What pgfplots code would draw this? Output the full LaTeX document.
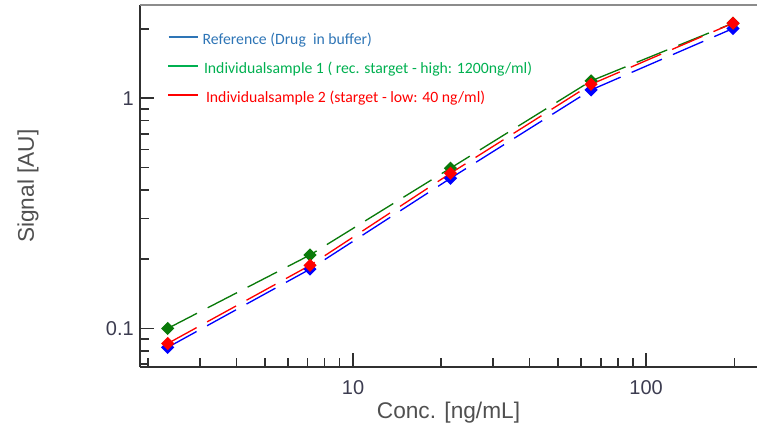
\documentclass[border=0pt]{standalone}
\usepackage{pgfplots}
\pgfplotsset{compat=1.18}
\usepackage{fontspec}
\setmainfont{Liberation Sans}
\newfontfamily\carlito{Carlito}
\definecolor{legblue}{HTML}{2E75B6}
\definecolor{leggreen}{HTML}{00B050}
\definecolor{legred}{HTML}{FF0000}
\definecolor{plotblue}{HTML}{0000FF}
\definecolor{plotgreen}{HTML}{0A7A0A}
\definecolor{plotred}{HTML}{FF0000}
\definecolor{ticktext}{HTML}{3C3C50}
\definecolor{labeltext}{HTML}{505050}
\definecolor{axisdark}{HTML}{303030}
\definecolor{topgray}{HTML}{8C8C8C}
\begin{document}
\begin{tikzpicture}
\begin{axis}[
  at={(0,0)}, anchor=south west,
  scale only axis, width=462.75pt, height=271.125pt,
  xmode=log, ymode=log,
  xmin=1.875, xmax=239, ymin=0.068, ymax=2.53,
  axis x line*=bottom, axis y line*=left,
  x axis line style={-, line width=1.5pt, color=axisdark},
  y axis line style={-, line width=1.5pt, color=axisdark},
  xtick={10,100}, xticklabels={10,100},
  minor xtick={2,3,4,5,6,7,8,9,20,30,40,50,60,70,80,90,200},
  ytick={0.1,1}, yticklabels={0.1,1},
  minor ytick={0.07,0.08,0.09,0.2,0.3,0.4,0.5,0.6,0.7,0.8,0.9,2},
  tick align=inside,
  major tick length=10.5pt, minor tick length=7pt,
  every tick/.style={axisdark, line width=1.2pt},
  /pgf/number format/assume math mode=true,
  tick label style={font=\fontsize{15}{18}\selectfont, text=ticktext},
  xticklabel style={yshift=-6.5pt},
  yticklabel style={xshift=-1.2pt},
  xlabel={Conc. [ng/mL]},
  ylabel={Signal [AU]},
  label style={font=\fontsize{17}{20}\selectfont, text=labeltext},
  xlabel style={at={(axis description cs:0.5,-0.1411)}, anchor=base},
  ylabel style={at={(axis description cs:-0.1815,0.5)}, anchor=center},
  clip=false,
  legend cell align=left,
  legend style={draw=none, fill=none, at={(0.0438,0.925)}, anchor=north west,
    inner sep=0pt, outer sep=0pt, row sep=9.75pt, column sep=3pt,
    font=\carlito\fontsize{11.8}{14}\selectfont,
    nodes={inner sep=0pt, text height=9pt, text depth=3pt}},
]
\addlegendimage{legend image code/.code={\draw[legblue, line width=1.5pt] (0pt,3pt) -- (21.75pt,3pt);}}
\addlegendentry{\textcolor{legblue}{Reference (Drug\ \ in buffer)}}
\addlegendimage{legend image code/.code={\draw[leggreen, line width=1.5pt] (-0.5pt,3pt) -- (21.75pt,3pt);}}
\addlegendentry{\textcolor{leggreen}{\hspace{1pt}Individualsample 1 ( rec. starget - high: 1200ng/ml)}}
\addlegendimage{legend image code/.code={\draw[legred, line width=1.5pt] (-0.5pt,3pt) -- (21.75pt,3pt);}}
\addlegendentry{\textcolor{legred}{\hspace{2.5pt}Individualsample 2 (starget - low: 40 ng/ml)}}

\addplot[plotblue, line width=1pt, dash pattern=on 24.75pt off 9pt, mark=square*, mark size=3pt, mark options={solid, rotate=45, fill=plotblue, draw=plotblue}, forget plot]
  coordinates {(2.33,0.0827)(7.13,0.181)(21.5,0.449)(64.9,1.087)(198,2.01)};
\addplot[plotgreen, line width=1pt, dash pattern=on 24.75pt off 9pt, mark=square*, mark size=3pt, mark options={solid, rotate=45, fill=plotgreen, draw=plotgreen}, forget plot]
  coordinates {(2.33,0.100)(7.13,0.2085)(21.5,0.497)(64.9,1.19)(198,2.12)};
\addplot[plotred, line width=1pt, dash pattern=on 24.75pt off 9pt, mark=square*, mark size=3pt, mark options={solid, rotate=45, fill=plotred, draw=plotred}, forget plot]
  coordinates {(2.33,0.086)(7.13,0.188)(21.5,0.472)(64.9,1.15)(198,2.12)};

\draw[topgray, line width=1.5pt] (rel axis cs:0,1) -- (rel axis cs:1,1);
\end{axis}
\pgfresetboundingbox
\path (-105pt,-42pt) rectangle (462.75pt,275.25pt);
\end{tikzpicture}
\end{document}
